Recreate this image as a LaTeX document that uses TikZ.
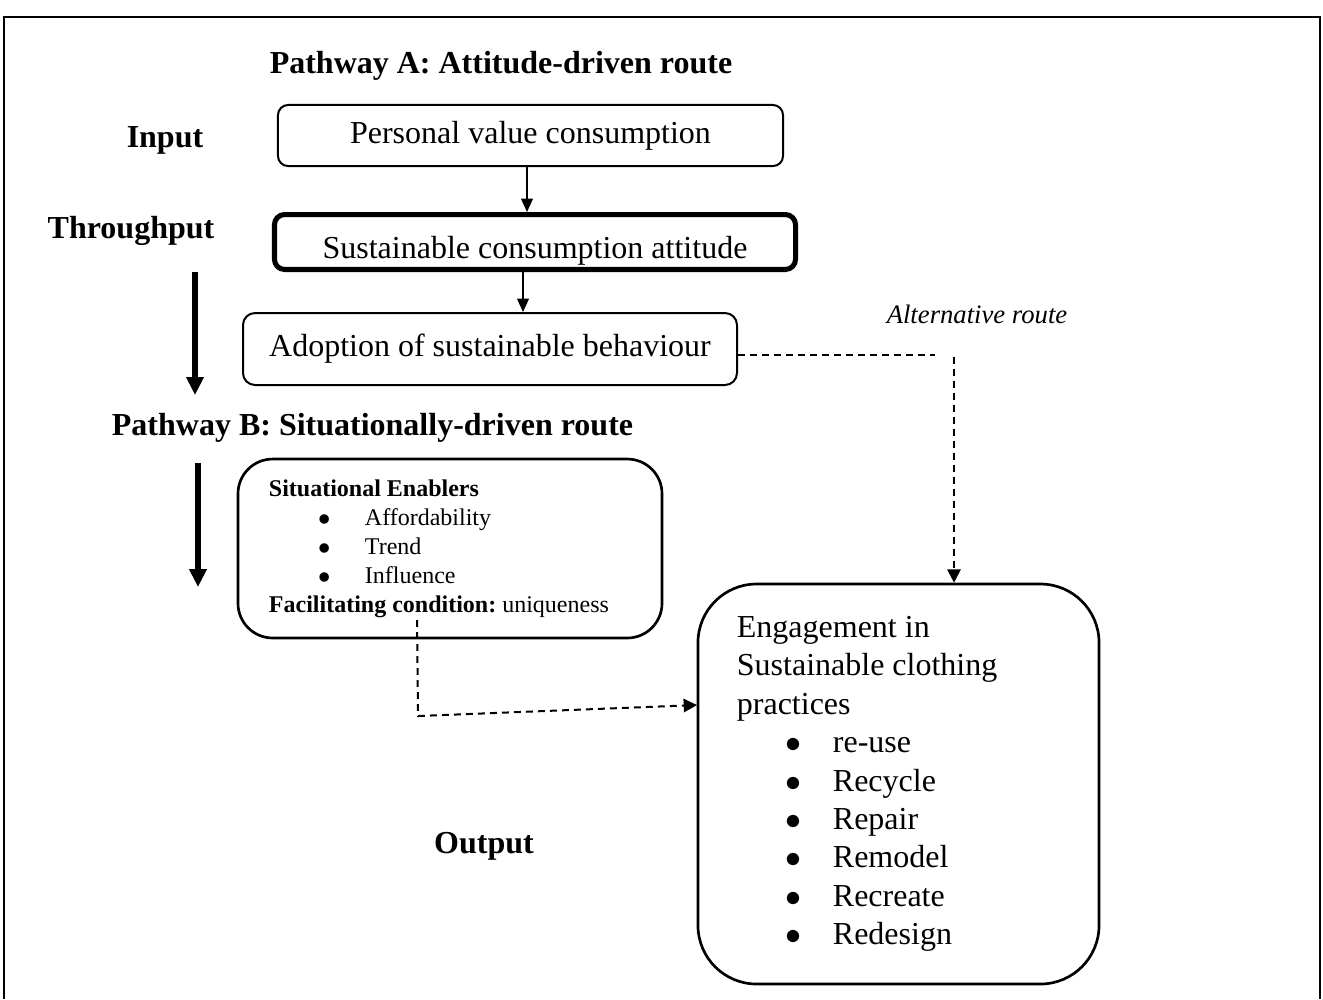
\documentclass[tikz,border=0pt]{standalone}
\usepackage{fontspec}
\setmainfont{Liberation Serif}
\usetikzlibrary{positioning,arrows.meta}
\newcommand{\bitem}[1]{\hspace*{18.4pt}\makebox[17.6pt][l]{$\bullet$}#1}

\begin{document}
\begin{tikzpicture}[x=0.375pt,y=-0.375pt,font=\fontsize{12}{14.4}\selectfont,
  pbox/.style={draw,line width=0.75pt,rounded corners=3.8pt,inner sep=0pt},
  lbl/.style={font=\fontsize{12}{14.4}\selectfont\bfseries,anchor=base},
  arr/.style={line width=0.6pt,-{Triangle[length=5pt,width=4.4pt]}},
  dsh/.style={line width=0.75pt,dash pattern=on 2.6pt off 1.9pt},
  bigarr/.style={line width=1.9pt,-{Triangle[length=6.75pt,width=6.3pt]}}]
  \useasboundingbox (0,0) rectangle (1323,999);
  % outer frame, runs off the bottom
  \draw[line width=1.1pt] (4,999) |- (1320,17) -- (1320,999);

  % side labels
  \node[lbl] (pa) at (501,73) {Pathway A: Attitude-driven route};
  \node[lbl] (inp) at (165,147) {Input};
  \node[lbl] (thr) at (131,238) {Throughput};
  \node[lbl] (pb) at (372.5,435) {Pathway B: Situationally-driven route};
  \node[lbl] (out) at (484,853) {Output};
  \node[anchor=base,font=\fontsize{10}{12}\selectfont\itshape] (altlbl) at (977,323) {Alternative route};

  % pathway A boxes
  \node[pbox,minimum width=189.4pt,minimum height=22.9pt] (pvc) at (530.5,135.5) {Personal value consumption};
  \node[pbox,line width=1.9pt,minimum width=195.4pt,minimum height=20.6pt,
        text height=12pt,text depth=0pt] (sca) at (535,242) {Sustainable consumption attitude};
  \node[pbox,rounded corners=4.5pt,minimum width=185.25pt,minimum height=27pt] (asb) at (490,349) {Adoption of sustainable behaviour};

  % pathway B box
  \node[pbox,line width=1pt,rounded corners=13pt,minimum height=67.1pt,text width=135.8pt,
        inner xsep=11.6pt,align=flush left,font=\fontsize{9}{10.9}\selectfont] (enab) at (450,548.5)
    {\textbf{Situational Enablers}\\
     \bitem{Affordability}\\
     \bitem{Trend}\\
     \bitem{Influence}\\
     \textbf{Facilitating condition:}\ uniqueness};

  % output box
  \node[pbox,line width=1pt,rounded corners=22pt,minimum height=150pt,text width=121.2pt,
        inner xsep=14.6pt,align=flush left] (eng) at (898.5,784)
    {Engagement in\\
     Sustainable clothing\\
     practices\\
     \bitem{re-use}\\
     \bitem{Recycle}\\
     \bitem{Repair}\\
     \bitem{Remodel}\\
     \bitem{Recreate}\\
     \bitem{Redesign}};

  % solid links
  \draw[arr] (pvc.south -| 527,0) -- (sca.north -| 527,0);
  \draw[arr] (sca.south -| 523,0) -- (asb.north -| 523,0);

  % alternative route
  \coordinate (altA) at (935,355);
  \coordinate (altB) at (954,357);
  \draw[dsh] (asb.east |- altA) -- (altA);
  \draw[dsh,-{Triangle[length=5pt,width=5pt]}] (altB) -- (eng.north -| altB);

  % situational route
  \coordinate (sitA) at (417,620);
  \coordinate (sitB) at (418,716);
  \coordinate (sitin) at (697,705);
  \draw[dsh,-{Triangle[length=5pt,width=5pt]}] (sitA) -- (sitB) -- (sitin);

  % flow arrows on the left
  \coordinate (fa1) at (195,272);
  \coordinate (fa2) at (195,395);
  \coordinate (fb1) at (198,463);
  \coordinate (fb2) at (198,587);
  \draw[bigarr] (fa1) -- (fa2);
  \draw[bigarr] (fb1) -- (fb2);
\end{tikzpicture}
\end{document}
